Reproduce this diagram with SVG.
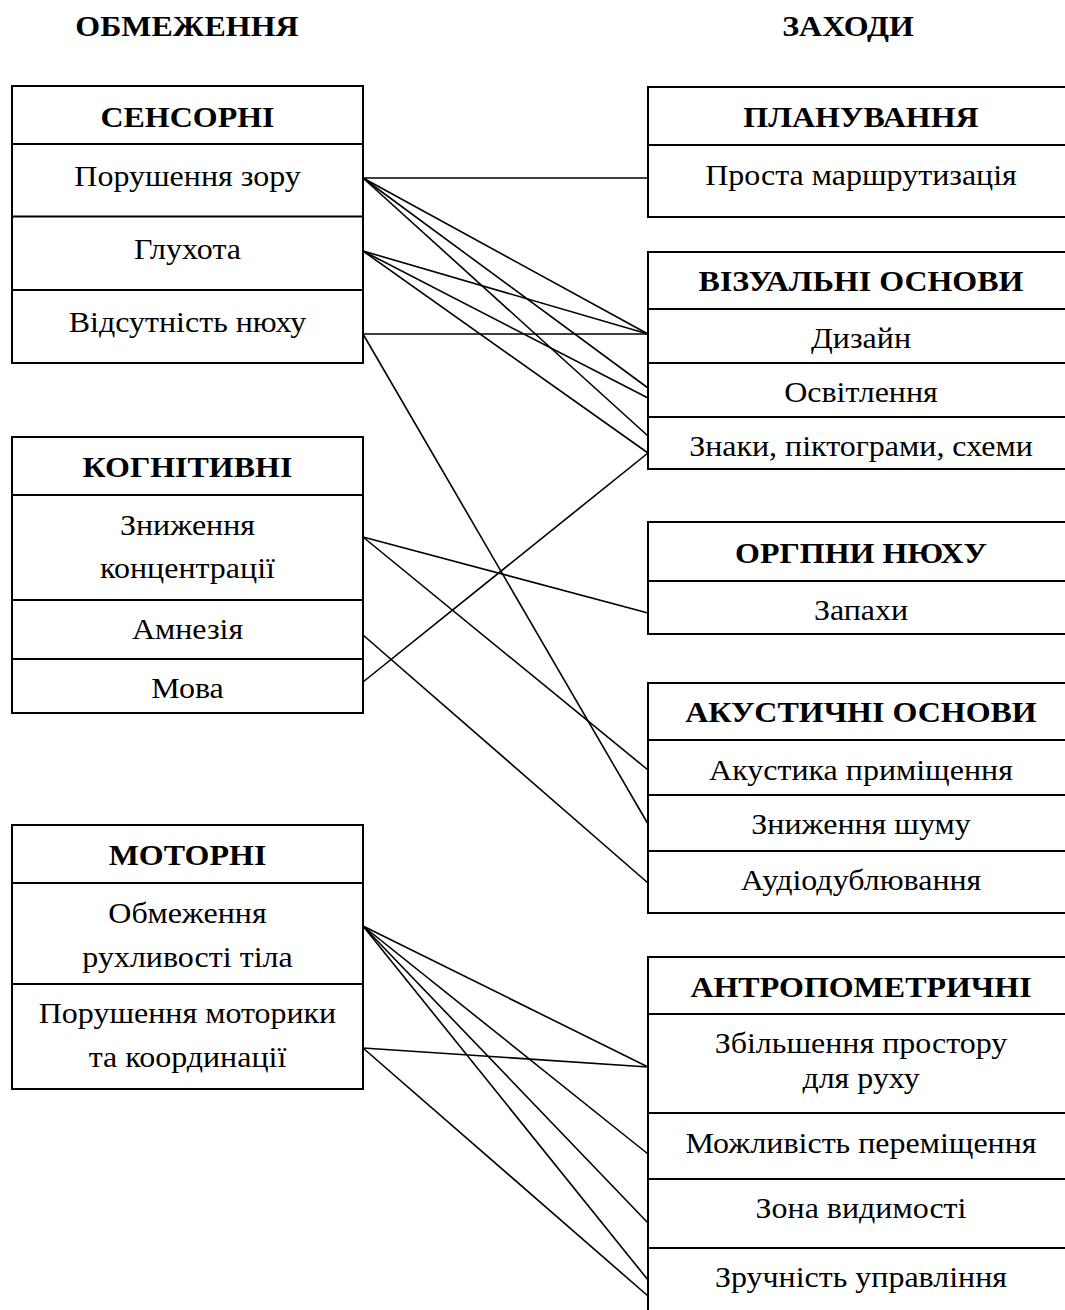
<svg xmlns="http://www.w3.org/2000/svg" width="1065" height="1310" viewBox="0 0 1065 1310">
<style>
.box{fill:#fff;stroke:#000;stroke-width:2}
.div{stroke:#000;stroke-width:2}
.t{font-family:"Liberation Serif","Times New Roman",serif;font-size:30px;fill:#000;text-anchor:middle}
.h{font-weight:bold}
.c{stroke:#000;stroke-width:1.6;fill:none}
</style>
<rect width="1065" height="1310" fill="#fff"/>
<g transform="translate(187 0) scale(1.066 1)"><text class="t h" x="0" y="36">ОБМЕЖЕННЯ</text></g>
<g transform="translate(848 0) scale(1.066 1)"><text class="t h" x="0" y="36">ЗАХОДИ</text></g>

<g id="sensorni">
<rect class="box" x="12" y="86" width="351" height="277"/>
<line class="div" x1="12" y1="144" x2="363" y2="144"/>
<line class="div" x1="12" y1="216.5" x2="363" y2="216.5"/>
<line class="div" x1="12" y1="290" x2="363" y2="290"/>
<g transform="translate(187.5 0) scale(1.066 1)">
<text class="t h" x="0" y="127">СЕНСОРНІ</text>
<text class="t" x="0" y="186">Порушення зору</text>
<text class="t" x="0" y="259">Глухота</text>
<text class="t" x="0" y="332">Відсутність нюху</text>
</g>
</g>

<g id="kognityvni">
<rect class="box" x="12" y="437" width="351" height="276"/>
<line class="div" x1="12" y1="495" x2="363" y2="495"/>
<line class="div" x1="12" y1="600" x2="363" y2="600"/>
<line class="div" x1="12" y1="659" x2="363" y2="659"/>
<g transform="translate(187.5 0) scale(1.066 1)">
<text class="t h" x="0" y="477">КОГНІТИВНІ</text>
<text class="t" x="0" y="535">Зниження</text>
<text class="t" x="0" y="578">концентрації</text>
<text class="t" x="0" y="639">Амнезія</text>
<text class="t" x="0" y="698">Мова</text>
</g>
</g>

<g id="motorni">
<rect class="box" x="12" y="825" width="351" height="264"/>
<line class="div" x1="12" y1="883" x2="363" y2="883"/>
<line class="div" x1="12" y1="984" x2="363" y2="984"/>
<g transform="translate(187.5 0) scale(1.066 1)">
<text class="t h" x="0" y="865">МОТОРНІ</text>
<text class="t" x="0" y="923">Обмеження</text>
<text class="t" x="0" y="967">рухливості тіла</text>
<text class="t" x="0" y="1023">Порушення моторики</text>
<text class="t" x="0" y="1067">та координації</text>
</g>
</g>

<g id="planuvannia">
<rect class="box" x="648" y="87" width="430" height="130"/>
<line class="div" x1="648" y1="145" x2="1078" y2="145"/>
<g transform="translate(861 0) scale(1.066 1)">
<text class="t h" x="0" y="127">ПЛАНУВАННЯ</text>
<text class="t" x="0" y="185">Проста маршрутизація</text>
</g>
</g>

<g id="vizualni">
<rect class="box" x="648" y="252" width="430" height="217"/>
<line class="div" x1="648" y1="309" x2="1078" y2="309"/>
<line class="div" x1="648" y1="363" x2="1078" y2="363"/>
<line class="div" x1="648" y1="417" x2="1078" y2="417"/>
<g transform="translate(861 0) scale(1.066 1)">
<text class="t h" x="0" y="291">ВІЗУАЛЬНІ ОСНОВИ</text>
<text class="t" x="0" y="348">Дизайн</text>
<text class="t" x="0" y="402">Освітлення</text>
<text class="t" x="0" y="456">Знаки, піктограми, схеми</text>
</g>
<line class="div" x1="648" y1="469" x2="1078" y2="469"/>
</g>

<g id="organy-niukhu">
<rect class="box" x="648" y="522" width="430" height="112"/>
<line class="div" x1="648" y1="581" x2="1078" y2="581"/>
<g transform="translate(861 0) scale(1.066 1)">
<text class="t h" x="0" y="563">ОРГПНИ НЮХУ</text>
<text class="t" x="0" y="620">Запахи</text>
</g>
</g>

<g id="akustychni">
<rect class="box" x="648" y="683" width="430" height="230"/>
<line class="div" x1="648" y1="740" x2="1078" y2="740"/>
<line class="div" x1="648" y1="795" x2="1078" y2="795"/>
<line class="div" x1="648" y1="851" x2="1078" y2="851"/>
<g transform="translate(861 0) scale(1.066 1)">
<text class="t h" x="0" y="722">АКУСТИЧНІ ОСНОВИ</text>
<text class="t" x="0" y="780">Акустика приміщення</text>
<text class="t" x="0" y="834">Зниження шуму</text>
<text class="t" x="0" y="890">Аудіодублювання</text>
</g>
</g>

<g id="antropometrychni">
<rect class="box" x="648" y="957" width="430" height="370"/>
<line class="div" x1="648" y1="1014" x2="1078" y2="1014"/>
<line class="div" x1="648" y1="1113" x2="1078" y2="1113"/>
<line class="div" x1="648" y1="1179" x2="1078" y2="1179"/>
<line class="div" x1="648" y1="1248" x2="1078" y2="1248"/>
<g transform="translate(861 0) scale(1.066 1)">
<text class="t h" x="0" y="997">АНТРОПОМЕТРИЧНІ</text>
<text class="t" x="0" y="1053">Збільшення простору</text>
<text class="t" x="0" y="1088">для руху</text>
<text class="t" x="0" y="1153">Можливість переміщення</text>
<text class="t" x="0" y="1218">Зона видимості</text>
<text class="t" x="0" y="1287">Зручність управління</text>
</g>
</g>

<g id="connectors">
<line class="c" x1="363" y1="178" x2="648" y2="178"/>
<line class="c" x1="363" y1="178" x2="648" y2="334"/>
<line class="c" x1="363" y1="178" x2="648" y2="388"/>
<line class="c" x1="363" y1="178" x2="648" y2="436"/>
<line class="c" x1="363" y1="251" x2="648" y2="334"/>
<line class="c" x1="363" y1="251" x2="648" y2="398"/>
<line class="c" x1="363" y1="251" x2="648" y2="453"/>
<line class="c" x1="363" y1="334" x2="648" y2="334"/>
<line class="c" x1="363" y1="334" x2="648" y2="824"/>
<line class="c" x1="363" y1="537" x2="648" y2="613"/>
<line class="c" x1="363" y1="537" x2="648" y2="770"/>
<line class="c" x1="363" y1="635" x2="648" y2="883"/>
<line class="c" x1="363" y1="682" x2="648" y2="453"/>
<line class="c" x1="363" y1="926" x2="648" y2="1067"/>
<line class="c" x1="363" y1="926" x2="648" y2="1154"/>
<line class="c" x1="363" y1="926" x2="648" y2="1223"/>
<line class="c" x1="363" y1="926" x2="648" y2="1280"/>
<line class="c" x1="363" y1="1048" x2="648" y2="1067"/>
<line class="c" x1="363" y1="1048" x2="648" y2="1296"/>
</g>
</svg>
